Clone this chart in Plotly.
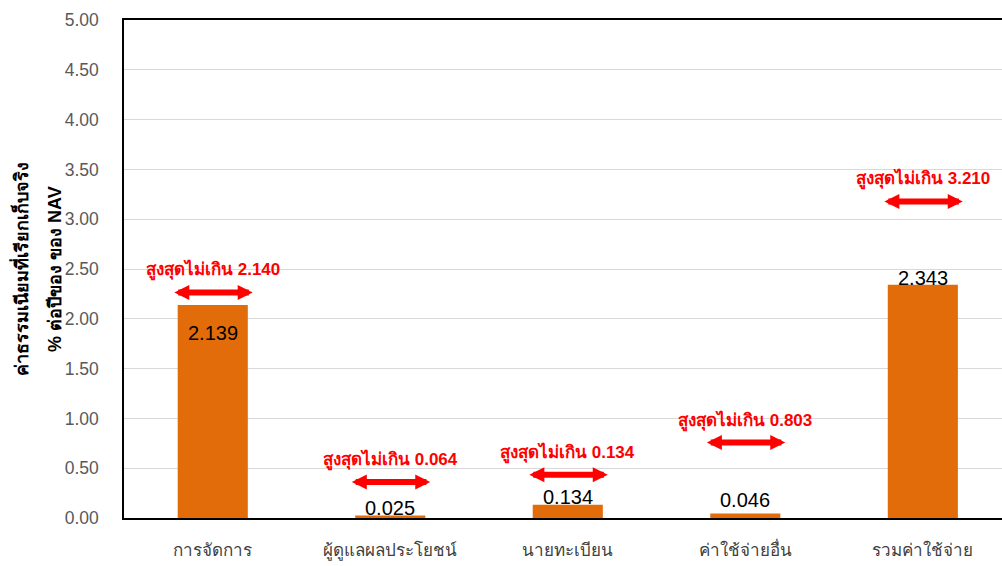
import plotly.graph_objects as go

categories = ["การจัดการ", "ผู้ดูแลผลประโยชน์", "นายทะเบียน", "ค่าใช้จ่ายอื่น", "รวมค่าใช้จ่าย"]
actual_fee = [2.139, 0.025, 0.134, 0.046, 2.343]
max_fee = [2.140, 0.064, 0.134, 0.803, 3.210]
value_labels = ["2.139", "0.025", "0.134", "0.046", "2.343"]
max_labels = ["สูงสุดไม่เกิน 2.140", "สูงสุดไม่เกิน 0.064", "สูงสุดไม่เกิน 0.134",
              "สูงสุดไม่เกิน 0.803", "สูงสุดไม่เกิน 3.210"]
y_ticks = [0, 0.5, 1, 1.5, 2, 2.5, 3, 3.5, 4, 4.5, 5]
y_title_lines = ["ค่าธรรมเนียมที่เรียกเก็บจริง", "% ต่อปีของ ของ NAV"]

# layout-only placement helpers
arrow_y = [2.265, 0.362, 0.435, 0.757, 3.178]   # display height of each red marker
value_label_shift = [-28, 8, 8, 13, 7]          # px offset of value label from bar top

FONT = "Liberation Sans, Arial, sans-serif"

fig = go.Figure()
fig.add_trace(go.Bar(
    x=categories, y=actual_fee,
    marker=dict(color="#E36C0A", line=dict(width=0)),
    width=0.395,
    hoverinfo="skip",
))

annotations = []
for i, (val, txt, sh) in enumerate(zip(actual_fee, value_labels, value_label_shift)):
    annotations.append(dict(
        x=i, y=val, xref="x", yref="y", text=txt, showarrow=False,
        yanchor="middle", yshift=sh,
        font=dict(size=20, color="#000000", family=FONT),
    ))
for i, (ay, lab) in enumerate(zip(arrow_y, max_labels)):
    annotations.append(dict(
        x=i + 0.225, y=ay, ax=i - 0.225, ay=ay,
        xref="x", yref="y", axref="x", ayref="y",
        text="", showarrow=True, arrowside="end+start",
        arrowhead=2, arrowsize=0.5, arrowwidth=6, arrowcolor="#FF0000",
    ))
    annotations.append(dict(
        x=i, y=ay, xref="x", yref="y", text="<b>" + lab + "</b>", showarrow=False,
        yanchor="bottom", yshift=9,
        font=dict(size=17, color="#FF0000", family=FONT),
    ))

# y-axis title as two rotated lines
for shift, line in zip([-104, -69], y_title_lines):
    annotations.append(dict(
        x=0, y=0.5, xref="paper", yref="paper", xanchor="center", yanchor="middle",
        xshift=shift, text="<b>" + line + "</b>", textangle=-90, showarrow=False,
        font=dict(size=18, color="#000000", family=FONT),
    ))

fig.update_layout(
    width=1002, height=566,
    margin=dict(l=124, r=0, t=20, b=48),
    paper_bgcolor="white", plot_bgcolor="white",
    showlegend=False,
    annotations=annotations,
    font=dict(family=FONT),
    xaxis=dict(
        type="category", range=[-0.5, 4.446], automargin=False,
        showline=True, linecolor="#000000", linewidth=1.5, mirror=True,
        ticks="", tickfont=dict(size=17, color="#404040", family=FONT),
        ticklabelstandoff=16,
        showgrid=False,
    ),
    yaxis=dict(
        range=[0, 5], tickvals=y_ticks, tickformat=".2f", automargin=False,
        showline=True, linecolor="#000000", linewidth=1.5,
        showgrid=True, gridcolor="#D9D9D9", gridwidth=1,
        zeroline=False, ticks="",
        tickfont=dict(size=17.5, color="#595959", family=FONT),
        ticklabelstandoff=20,
    ),
)

fig.write_html(
    "out.html",
    config={"displayModeBar": False},
    post_script="document.body.style.margin='0';document.body.style.overflow='hidden';",
)
